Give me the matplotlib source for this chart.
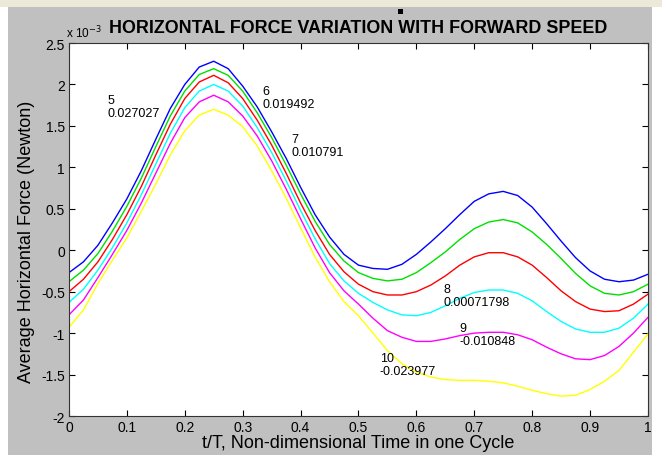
import matplotlib
matplotlib.use("Agg")
import matplotlib.pyplot as plt
from matplotlib.patches import Rectangle

# t/T sample points (0 .. 1 step 0.025)
t = [i / 40 for i in range(41)]

# average horizontal force, units of 1e-3 N, one list per forward speed
f_blue = [-0.27, -0.14, 0.06, 0.33, 0.62, 0.96, 1.34, 1.71, 2.00, 2.21, 2.28,
          2.19, 1.98, 1.73, 1.43, 1.11, 0.76, 0.43, 0.16, -0.05, -0.18,
          -0.22, -0.23, -0.17, -0.05, 0.10, 0.26, 0.43, 0.59, 0.68, 0.71,
          0.66, 0.52, 0.32, 0.11, -0.09, -0.25, -0.35, -0.38, -0.36, -0.29]
f_green = [-0.38, -0.24, -0.04, 0.23, 0.53, 0.87, 1.25, 1.62, 1.92, 2.12, 2.19,
           2.11, 1.92, 1.66, 1.36, 1.03, 0.68, 0.35, 0.07, -0.13, -0.27,
           -0.34, -0.37, -0.35, -0.27, -0.15, -0.02, 0.13, 0.26, 0.34, 0.37,
           0.33, 0.22, 0.07, -0.10, -0.28, -0.43, -0.52, -0.54, -0.50, -0.41]
f_red = [-0.50, -0.35, -0.14, 0.13, 0.43, 0.77, 1.15, 1.52, 1.83, 2.03, 2.11,
         2.02, 1.83, 1.57, 1.27, 0.93, 0.57, 0.24, -0.05, -0.26, -0.41,
         -0.50, -0.54, -0.54, -0.50, -0.42, -0.31, -0.18, -0.08, -0.03, -0.03,
         -0.08, -0.18, -0.33, -0.49, -0.62, -0.71, -0.74, -0.73, -0.65, -0.53]
f_cyan = [-0.63, -0.47, -0.24, 0.03, 0.33, 0.67, 1.04, 1.41, 1.72, 1.92, 2.00,
          1.92, 1.74, 1.48, 1.18, 0.84, 0.48, 0.14, -0.16, -0.37, -0.52,
          -0.63, -0.72, -0.78, -0.79, -0.75, -0.67, -0.58, -0.51, -0.48, -0.48,
          -0.52, -0.61, -0.74, -0.86, -0.95, -0.99, -0.99, -0.94, -0.82, -0.65]
f_magenta = [-0.78, -0.60, -0.33, -0.05, 0.24, 0.57, 0.93, 1.29, 1.60, 1.79, 1.87,
             1.79, 1.62, 1.38, 1.08, 0.74, 0.38, 0.03, -0.27, -0.49, -0.65,
             -0.82, -0.97, -1.05, -1.10, -1.10, -1.07, -1.03, -1.00, -0.99, -0.99,
             -1.02, -1.08, -1.17, -1.25, -1.31, -1.32, -1.27, -1.16, -1.00, -0.81]
f_yellow = [-0.93, -0.72, -0.40, -0.12, 0.15, 0.47, 0.80, 1.15, 1.44, 1.63, 1.70,
            1.63, 1.49, 1.26, 0.96, 0.63, 0.27, -0.08, -0.38, -0.62, -0.79,
            -1.00, -1.21, -1.37, -1.47, -1.53, -1.56, -1.57, -1.57, -1.58, -1.60,
            -1.64, -1.69, -1.73, -1.76, -1.75, -1.68, -1.58, -1.45, -1.23, -1.01]

series = [f_blue, f_green, f_red, f_cyan, f_magenta, f_yellow]
colores = ["#0000ff", "#00e000", "#ff0000", "#00ffff", "#ff00ff", "#ffff00"]

# speed labels and their values, with where they sit
etiquetas = ["5\n0.027027", "6\n0.019492", "7\n0.010791",
             "8\n0.00071798", "9\n-0.010848", "10\n-0.023977"]
etiq_x = [0.066, 0.334, 0.384, 0.647, 0.675, 0.537]
etiq_y = [1.88, 1.99, 1.41, -0.40, -0.87, -1.23]

fig = plt.figure(figsize=(6.62, 4.56), dpi=100, facecolor="#c0c0c0")
fig.patches.append(Rectangle((0, 0.982), 1, 0.018, transform=fig.transFigure,
                             facecolor="#ece9d8", edgecolor="none"))
fig.patches.append(Rectangle((0, 0), 0.012, 0.982, transform=fig.transFigure,
                             facecolor="white", edgecolor="none"))
fig.patches.append(Rectangle((0.985, 0), 0.015, 0.982, transform=fig.transFigure,
                             facecolor="white", edgecolor="none"))
fig.patches.append(Rectangle((0.601, 0.967), 0.008, 0.012, transform=fig.transFigure,
                             facecolor="black", edgecolor="none"))

ax = fig.add_axes([0.1042, 0.0855, 0.8746, 0.818])
for y, c in zip(series, colores):
    ax.plot(t, y, color=c, lw=1.0)

for s, x, y in zip(etiquetas, etiq_x, etiq_y):
    ax.text(x, y, s, fontsize=9, family="Liberation Sans", va="top", ha="left",
            linespacing=1.1)

ax.set_xlim(0, 1)
ax.set_ylim(-2, 2.5)
ax.set_xticks([0, 0.1, 0.2, 0.3, 0.4, 0.5, 0.6, 0.7, 0.8, 0.9, 1])
ax.set_xticklabels(["0", "0.1", "0.2", "0.3", "0.4", "0.5", "0.6", "0.7", "0.8", "0.9", "1"])
ax.set_yticks([-2, -1.5, -1, -0.5, 0, 0.5, 1, 1.5, 2, 2.5])
ax.set_yticklabels(["-2", "-1.5", "-1", "-0.5", "0", "0.5", "1", "1.5", "2", "2.5"])
ax.tick_params(direction="in", length=4, top=True, right=True, labelsize=10, pad=3)
for lab in ax.get_xticklabels() + ax.get_yticklabels():
    lab.set_family("Liberation Sans")
for sp in ax.spines.values():
    sp.set_color("#333333")

ax.set_xlabel("t/T, Non-dimensional Time in one Cycle", fontsize=13,
              family="Liberation Sans", labelpad=0)
ax.set_ylabel("Average Horizontal Force (Newton)", fontsize=13,
              family="Liberation Sans")
ax.yaxis.set_label_coords(-0.058, 0.47)
ax.set_title("HORIZONTAL FORCE VARIATION WITH FORWARD SPEED", fontsize=12.9,
             family="Liberation Sans", fontweight="bold", pad=8)
fig.text(0.100, 0.915, r"x 10$^{-3}$", fontsize=8.5, family="Liberation Sans")

fig.savefig("out.png", dpi=100, facecolor=fig.get_facecolor())
